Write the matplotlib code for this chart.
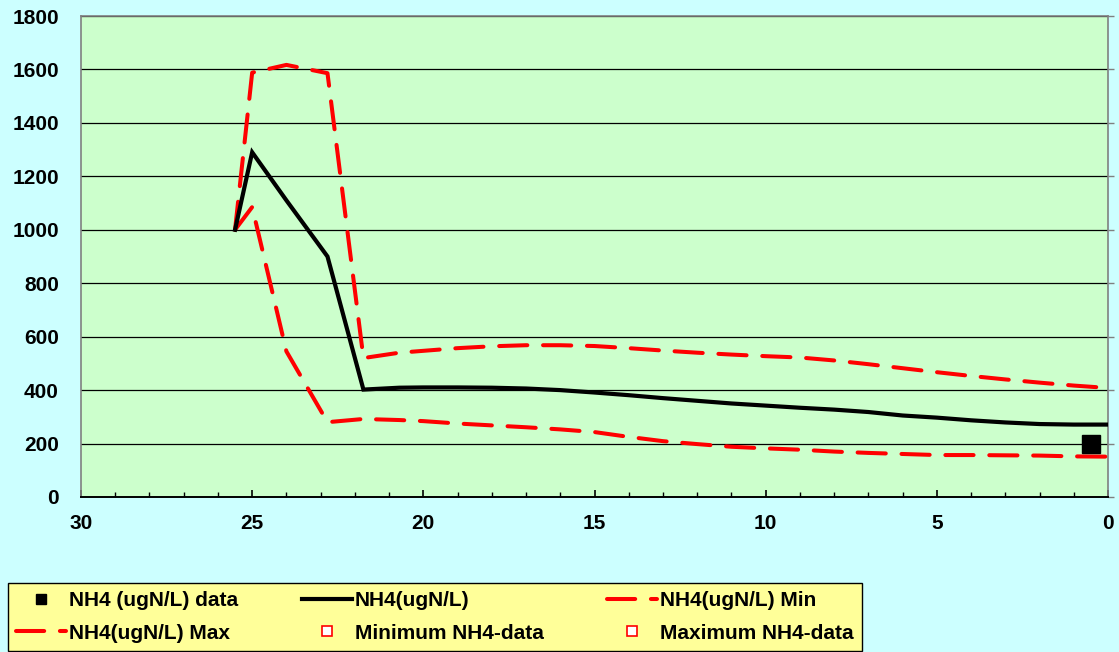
import matplotlib
matplotlib.use("Agg")
import matplotlib.pyplot as plt
from matplotlib.ticker import MultipleLocator

# ---- data ----
depth = [25.5, 25, 24, 22.8, 21.75, 20.7, 20, 19, 18, 17, 16, 15, 14, 13, 12, 11, 10,
         9, 8, 7, 6, 5, 4, 3, 2, 1, 0]
nh4 = [1000, 1290, 1110, 900, 402, 409, 410, 410, 409, 406, 400, 391, 381, 370, 360,
       350, 342, 334, 327, 318, 305, 297, 287, 279, 273, 271, 271]
nh4_min = [1000, 1085, 545, 280, 292, 288, 284, 275, 268, 261, 253, 243, 225, 209, 198,
           188, 182, 177, 170, 165, 161, 157, 157, 156, 155, 152, 151]
nh4_max = [1000, 1588, 1617, 1586, 520, 540, 547, 557, 564, 568, 568, 565, 557, 548, 540,
           533, 527, 522, 511, 497, 482, 467, 453, 440, 428, 417, 408]
data_x = [0.5]
data_y = [200]
min_data_x, min_data_y = [], []
max_data_x, max_data_y = [], []

x_ticks = [30, 25, 20, 15, 10, 5, 0]
y_ticks = [0, 200, 400, 600, 800, 1000, 1200, 1400, 1600, 1800]

labels = ["NH4 (ugN/L) data", "NH4(ugN/L)", "NH4(ugN/L) Min",
          "NH4(ugN/L) Max", "Minimum NH4-data", "Maximum NH4-data"]

# ---- style ----
plt.rcParams['font.family'] = ['Liberation Sans', 'DejaVu Sans']
plt.rcParams['font.weight'] = 'bold'
FS = 15

W, H = 1119, 652
fig = plt.figure(figsize=(W / 100, H / 100), dpi=100, facecolor='#CCFFFF')
ax = fig.add_axes([81 / W, 1 - 497 / H, (1108 - 81) / W, (497 - 16) / H])
ax.set_facecolor('#CCFFCC')

red = '#FF0000'
h_data, = ax.plot(data_x, data_y, linestyle='none', marker='s', markersize=13,
                  color='black', zorder=5)
h_main, = ax.plot(depth, nh4, color='black', linewidth=3.0, solid_joinstyle='miter', zorder=4)
h_min, = ax.plot(depth, nh4_min, color=red, linewidth=2.9, dashes=(7.0, 3.9),
                 dash_capstyle='round', zorder=3)
h_max, = ax.plot(depth, nh4_max, color=red, linewidth=2.9, dashes=(7.0, 3.9),
                 dash_capstyle='round', zorder=3)
h_mind, = ax.plot(min_data_x, min_data_y, linestyle='none', marker='s', markersize=13,
                  markerfacecolor='white', markeredgecolor=red, markeredgewidth=1.2)
h_maxd, = ax.plot(max_data_x, max_data_y, linestyle='none', marker='s', markersize=13,
                  markerfacecolor='white', markeredgecolor=red, markeredgewidth=1.2)

ax.set_xlim(30, 0)
ax.set_ylim(0, 1800)
ax.set_xticks(x_ticks)
ax.xaxis.set_minor_locator(MultipleLocator(1))
ax.set_yticks(y_ticks)
ax.grid(axis='y', color='black', linewidth=0.9, zorder=1)
ax.set_axisbelow(True)

for s in ['left', 'top', 'right']:
    ax.spines[s].set_color('#808080')
    ax.spines[s].set_linewidth(1.2)
ax.spines['bottom'].set_color('black')
ax.spines['bottom'].set_linewidth(1.4)

ax.tick_params(axis='x', which='major', direction='in', length=5, width=1.2,
               labelsize=FS, pad=12, colors='black')
ax.tick_params(axis='x', which='minor', direction='in', length=3.5, width=1)
ax.tick_params(axis='y', which='major', left=False, right=True, labelleft=True,
               labelright=False, direction='out', length=4, width=1, color='#808080',
               labelsize=FS, pad=12, labelcolor='black')
for lab in ax.get_xticklabels() + ax.get_yticklabels():
    lab.set_fontweight('bold')

# legend (row-major order emulated with column-major fill)
handles = [h_data, h_main, h_min, h_max, h_mind, h_maxd]
order = [0, 3, 1, 4, 2, 5]
leg = fig.legend([handles[i] for i in order], [labels[i] for i in order],
                 ncol=3, loc='lower left',
                 bbox_to_anchor=(8 / W, 1 / H, (862 - 8) / W, (652 - 583) / H),
                 mode='expand', frameon=True, fancybox=False,
                 facecolor='#FFFF99', edgecolor='black', framealpha=1,
                 prop={'size': FS, 'weight': 'bold'}, handlelength=2.4,
                 handletextpad=0.15, markerscale=0.55, borderaxespad=0,
                 labelspacing=0.65, borderpad=0.4)
leg.get_frame().set_linewidth(1.0)

fig.savefig('out.png', dpi=100, facecolor=fig.get_facecolor())
